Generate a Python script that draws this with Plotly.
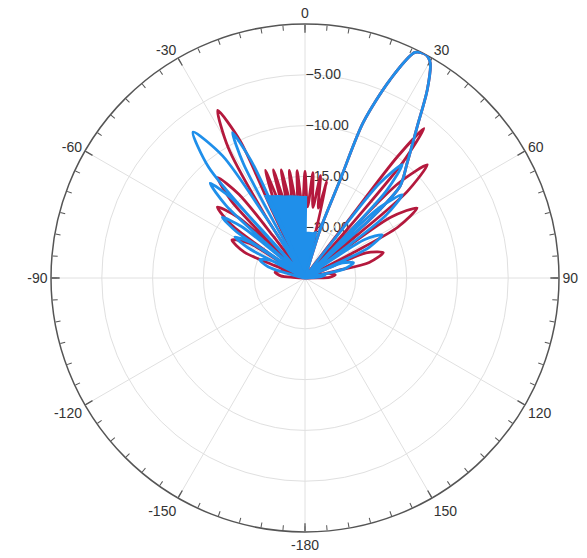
import plotly.graph_objects as go

# ---------------- data (dB vs angle in degrees) ----------------
red_left_theta = [-88, -87, -85, -79, -73, -71, -69,
                  -67.7, -66.9, -62.5, -58.1, -57.3, -56,
                  -55.5, -54.2, -51, -47.8, -46.5, -45.5,
                  -44.8, -43.7, -41, -38.3, -37.2, -35,
                  -32.5, -30.5, -27.5, -25.3, -26.0, -24]
red_left_r = [-25, -23.8, -22.6, -22, -22.6, -23.8, -25,
              -21.8, -18.5, -16.9, -18.5, -21.8, -25,
              -20.6, -16.1, -13.9, -16.1, -20.6, -25,
              -19.8, -14.5, -11.9, -14.5, -19.8, -25,
              -17.6, -10.1, -6.4, -10.1, -17.6, -25]

red_comb_theta = [-22.5, -20.2, -18.2, -16.3, -14.4, -12.4, -10.4, -8.3, -6.2, -4.2, -2.1,
                  0.0, 2.1, 4.3, 6.4, 8.6, 10.8, 12.8, 14.0]
red_comb_r = [-18, -13.7, -18, -13.9, -18, -14.1, -18, -14.3, -18, -14.4, -18,
              -14.5, -18, -14.6, -18, -14.8, -18, -15.2, -25]

main_theta = [15.5, 17.4, 19.7, 20.5, 23.2, 26.0, 28.4, 30.2, 33.0, 36.6, 41.6, 46.0, 48.0, 47.4, 46.0]
main_r = [-25, -20, -14.75, -8.7, -3.8, -0.3, 0, -0.5, -2.9, -6.5, -9.85, -12, -16.4, -21.6, -25]

red_right_theta = [37.0, 37.3, 38.5, 40.2, 40.9, 42.5,
                   43.8, 44.6, 47.2, 49.8, 50.6, 52.5,
                   53.7, 54.7, 58, 61.3, 62.3, 64.5,
                   66.8, 67.6, 72, 76.4, 77.2, 77.8,
                   78, 79, 84, 88.5, 89.5, 90]
red_right_r = [-17.5, -10.0, -6.2, -10.0, -17.5, -25,
               -18.4, -11.9, -8.6, -11.9, -18.4, -25,
               -19.8, -14.6, -12, -14.6, -19.8, -25,
               -21.8, -18.5, -16.9, -18.5, -21.8, -25,
               -23.8, -22.6, -22, -22.6, -23.8, -25]

blue_left_theta = [-78, -75.3, -73.1, -68, -62.9, -60.7, -62.8,
                   -62.5, -62, -59.6, -57, -56.5, -56.5,
                   -55.5, -56, -53.7, -51, -50, -49,
                   -48.2, -47.4, -45, -42.6, -41.8, -43,
                   -42.2, -41, -37.5, -34.0, -32.8, -31,
                   -29.1, -28.3, -26.5, -24.7, -23.9, -23]
blue_left_r = [-25, -23.1, -21.2, -20.2, -21.2, -23.1, -25,
               -21.8, -18.6, -17, -18.6, -21.8, -25,
               -21, -16.9, -14.9, -16.9, -21, -25,
               -19.7, -14.4, -11.8, -14.4, -19.7, -25,
               -17.8, -10.5, -6.9, -10.5, -17.8, -25,
               -18.6, -12.2, -9, -12.2, -18.6, -25]

blue_wedge_theta = [-27, -26, -22, -18, -14, -10, -6, -2, 1, 1.2, 5, 10, 14, 15.5]
blue_wedge_r = [-25, -16, -16.3, -16.5, -16.7, -16.8, -16.9, -17, -17, -20.5, -20.5, -20.5, -20.3, -25]

blue_right_theta = [37.3, 38.2, 40.6, 43.0, 43.9, 44.5,
                    45.5, 46.6, 49.4, 52.2, 53.3, 54.5,
                    55.9, 57.2, 60.8, 64.4, 65.7, 66.5,
                    67, 68, 72.6, 77, 78, 78.5,
                    79, 80, 82, 85, 87, 89]
blue_right_r = [-19.1, -13.2, -10.3, -13.2, -19.1, -25,
                -20, -14.9, -12.4, -14.9, -20, -25,
                -21.5, -18, -16.3, -18, -21.5, -25,
                -23, -21, -20, -21, -23, -25,
                -24.2, -23.4, -23, -23.4, -24.2, -25]

angle_tick_vals = [0, 30, 60, 90, 120, 150, 180, 210, 240, 270, 300, 330]
angle_tick_text = ["0", "30", "60", "90", "120", "150", "-180", "-150", "-120", "-90", "-60", "-30"]
minor_tick_step = 5
radial_tick_vals = [-20, -15, -10, -5]
radial_range = [-25, 0]

RED = "#b4193d"
BLUE = "#1f8fea"
GRID = "#e0e0e0"
AXIS = "#555555"

fig = go.Figure()

# angular grid lines (every 30 degrees)
grid_t, grid_r = [], []
for a in angle_tick_vals[:6]:
    grid_t += [a, a, a + 180, None]
    grid_r += [radial_range[1], radial_range[0], radial_range[1], None]
fig.add_trace(go.Scatterpolar(theta=grid_t, r=grid_r, mode="lines",
                              line=dict(color=GRID, width=1), hoverinfo="skip",
                              showlegend=False))

# longer major ticks on the rim
maj_t, maj_r = [], []
for a in angle_tick_vals:
    maj_t += [a, a, None]
    maj_r += [radial_range[1] - 0.85, radial_range[1], None]
fig.add_trace(go.Scatterpolar(theta=maj_t, r=maj_r, mode="lines",
                              line=dict(color=AXIS, width=1.3), hoverinfo="skip",
                              showlegend=False))

red_theta = red_left_theta + red_comb_theta + main_theta + red_right_theta
red_r = red_left_r + red_comb_r + main_r + red_right_r
fig.add_trace(go.Scatterpolar(theta=red_theta, r=red_r, mode="lines",
                              line=dict(color=RED, width=2.8, shape="spline", smoothing=0.8),
                              hoverinfo="skip", showlegend=False))

fig.add_trace(go.Scatterpolar(theta=blue_wedge_theta, r=blue_wedge_r, mode="lines",
                              fill="toself", fillcolor=BLUE,
                              line=dict(color=BLUE, width=1.5), hoverinfo="skip",
                              showlegend=False))

blue_theta = blue_left_theta + main_theta + blue_right_theta
blue_r = blue_left_r + main_r + blue_right_r
fig.add_trace(go.Scatterpolar(theta=blue_theta, r=blue_r, mode="lines",
                              line=dict(color=BLUE, width=2.8, shape="spline", smoothing=0.8),
                              hoverinfo="skip", showlegend=False))

minor_vals = list(range(0, 360, minor_tick_step))
minor_text = [angle_tick_text[angle_tick_vals.index(v)] if v in angle_tick_vals else ""
              for v in minor_vals]

W, H = 587, 558
cx, cy, R = 305, 278, 254
fig.update_layout(
    width=W, height=H,
    margin=dict(l=0, r=0, t=0, b=0),
    paper_bgcolor="white",
    hovermode=False,
    font=dict(family="Arial, Liberation Sans, sans-serif", size=14, color="#333333"),
    polar=dict(
        domain=dict(x=[(cx - R) / W, (cx + R) / W], y=[1 - (cy + R) / H, 1 - (cy - R) / H]),
        bgcolor="white",
        angularaxis=dict(
            rotation=90, direction="clockwise",
            tickvals=minor_vals, ticktext=minor_text,
            ticks="inside", ticklen=5, tickwidth=1, tickcolor=AXIS,
            showline=True, linecolor=AXIS, linewidth=1.5,
            showgrid=False, layer="below traces",
            tickfont=dict(size=14, color="#333333"),
        ),
        radialaxis=dict(
            range=radial_range, tickvals=radial_tick_vals, tickformat=".2f",
            angle=90, side="clockwise", tickangle=90,
            showline=False, ticks="", showgrid=True, gridcolor=GRID, gridwidth=1,
            layer="below traces",
            tickfont=dict(size=14, color="#333333"),
        ),
    ),
)

fig.write_html("out.html", config={"displayModeBar": False, "staticPlot": True},
               post_script="document.body.style.margin='0';")
